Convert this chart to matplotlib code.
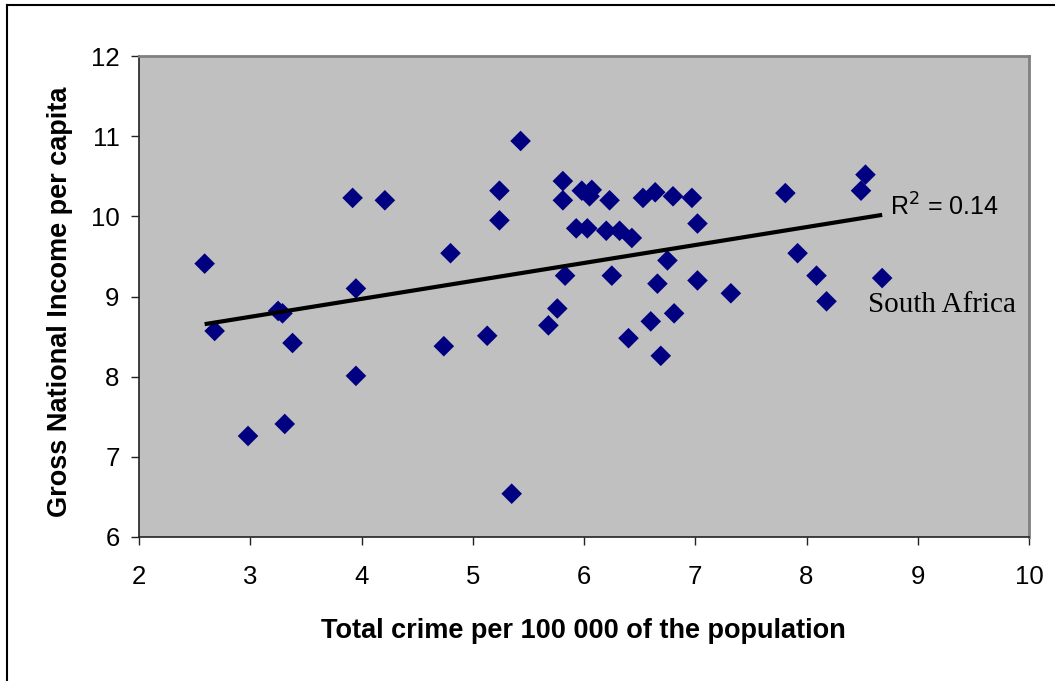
import matplotlib
matplotlib.use("Agg")
import matplotlib.pyplot as plt
from matplotlib.lines import Line2D
import numpy as np

crime = [2.59, 2.68, 2.98, 3.25, 3.29, 3.31, 3.38, 3.92, 3.95, 3.95, 4.21,
         4.74, 4.80, 5.13, 5.24, 5.24, 5.35, 5.43, 5.68, 5.76, 5.81, 5.81,
         5.83, 5.93, 5.98, 6.03, 6.05, 6.07, 6.20, 6.23, 6.25, 6.32, 6.40,
         6.43, 6.53, 6.60, 6.64, 6.66, 6.69, 6.75, 6.80, 6.81, 6.97, 7.02,
         7.02, 7.32, 7.81, 7.92, 8.09, 8.18, 8.49, 8.53, 8.68]
gni = [9.41, 8.57, 7.26, 8.82, 8.79, 7.41, 8.42, 10.23, 9.10, 8.01, 10.20,
       8.38, 9.54, 8.51, 10.32, 9.95, 6.54, 10.94, 8.64, 8.85, 10.44, 10.20,
       9.26, 9.85, 10.32, 9.85, 10.25, 10.33, 9.82, 10.20, 9.26, 9.82, 8.48,
       9.73, 10.23, 8.69, 10.30, 9.16, 8.26, 9.45, 10.25, 8.79, 10.23, 9.91,
       9.20, 9.04, 10.29, 9.54, 9.26, 8.94, 10.32, 10.52, 9.23]
r2_label = "R$^2$ = 0.14"
annot_label = "South Africa"
x_ticks = [2, 3, 4, 5, 6, 7, 8, 9, 10]
y_ticks = [6, 7, 8, 9, 10, 11, 12]

W, H = 1055, 681
fig = plt.figure(figsize=(W / 100, H / 100), dpi=100)
fig.patch.set_facecolor("white")

# outer frame (left and top visible)
fig.add_artist(Line2D([7 / W, 7 / W], [0, 1 - 5 / H], color="black", lw=1.5, transform=fig.transFigure))
fig.add_artist(Line2D([7 / W, 1], [1 - 5 / H, 1 - 5 / H], color="black", lw=1.5, transform=fig.transFigure))

left, right, top, bottom = 139, 1029, 56, 537
ax = fig.add_axes([left / W, 1 - bottom / H, (right - left) / W, (bottom - top) / H])
ax.set_facecolor("#C0C0C0")

ax.scatter(crime, gni, marker="D", s=110, color="#000080", edgecolors="none", zorder=3)

x = np.array(crime)
y = np.array(gni)
slope, intercept = np.polyfit(x, y, 1)
xs = np.array([x.min(), x.max()])
ax.plot(xs, slope * xs + intercept, color="black", lw=3, zorder=4, solid_capstyle="butt")

ax.set_xlim(2, 10)
ax.set_ylim(6, 12)
ax.set_xticks(x_ticks)
ax.set_yticks(y_ticks)

for s in ["top", "right"]:
    ax.spines[s].set_color("#808080")
    ax.spines[s].set_linewidth(2)
for s in ["left", "bottom"]:
    ax.spines[s].set_color("#222222")
    ax.spines[s].set_linewidth(1.2)

ax.tick_params(direction="out", length=6, width=1, colors="#222222", labelcolor="black",
               labelsize=18.5)
ax.tick_params(axis="x", pad=14)
ax.tick_params(axis="y", pad=8)
for lab in ax.get_xticklabels() + ax.get_yticklabels():
    lab.set_fontfamily("Liberation Sans")

ax.set_xlabel("Total crime per 100 000 of the population", fontsize=19.5, fontweight="bold",
              family="Liberation Sans", va="center")
ax.set_ylabel("Gross National Income per capita", fontsize=19.5, fontweight="bold",
              family="Liberation Sans", va="center")
ax.xaxis.set_label_coords(0.499, -0.195)
ax.yaxis.set_label_coords(-0.0888, 0.489)

ax.text(8.75, 10.12, r2_label, fontsize=18, family="Liberation Sans", va="center", ha="left", zorder=5)
ax.text(8.55, 8.89, annot_label, fontsize=21, family="Liberation Serif", va="center", ha="left", zorder=5)

fig.savefig("out.png", dpi=100, facecolor="white")
